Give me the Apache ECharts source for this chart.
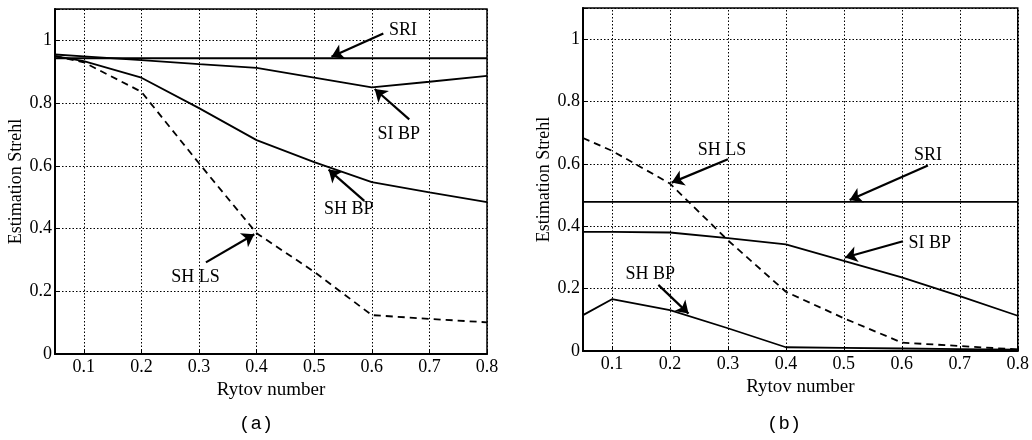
<!DOCTYPE html>
<html><head><meta charset="utf-8">
<script src="https://cdn.jsdelivr.net/npm/echarts@6/dist/echarts.min.js"></script>
<style>html,body{margin:0;padding:0;background:#fff}#c{width:1032px;height:440px}</style>
</head><body><div id="c"></div>
<script>
// ---- data ----
const rytov = [0.05, 0.1, 0.2, 0.3, 0.4, 0.5, 0.6, 0.7, 0.8];
const xTicks = [0.1, 0.2, 0.3, 0.4, 0.5, 0.6, 0.7, 0.8];
const yTicks = [0, 0.2, 0.4, 0.6, 0.8, 1];

// panel (a)
const sriA  = [0.943, 0.943, 0.943, 0.943, 0.943, 0.943, 0.943, 0.943, 0.943];
const siBpA = [0.955, 0.949, 0.937, 0.924, 0.912, 0.881, 0.850, 0.868, 0.887];
const shBpA = [0.950, 0.934, 0.881, 0.784, 0.682, 0.612, 0.548, 0.515, 0.484];
const shLsA = [0.950, 0.930, 0.836, 0.608, 0.385, 0.262, 0.124, 0.112, 0.101];

// panel (b)
const sriB  = [0.478, 0.478, 0.478, 0.478, 0.478, 0.478, 0.478, 0.478, 0.478];
const siBpB = [0.382, 0.382, 0.380, 0.362, 0.342, 0.289, 0.236, 0.176, 0.113];
const shBpB = [0.115, 0.166, 0.131, 0.073, 0.012, 0.010, 0.008, 0.006, 0.004];
const shLsB = [0.683, 0.642, 0.537, 0.355, 0.190, 0.105, 0.027, 0.016, 0.005];

// annotations: [text, labelX, labelY, arrowFromX, arrowFromY, arrowToX, arrowToY]
const notesA = [
  ['SRI',   0.654, 1.033, 0.620, 1.022, 0.530, 0.948],
  ['SI BP', 0.647, 0.700, 0.665, 0.748, 0.605, 0.845],
  ['SH BP', 0.560, 0.460, 0.587, 0.488, 0.525, 0.588],
  ['SH LS', 0.294, 0.245, 0.312, 0.292, 0.396, 0.382]
];
const notesB = [
  ['SH LS', 0.290, 0.645, 0.300, 0.615, 0.203, 0.540],
  ['SRI',   0.645, 0.628, 0.645, 0.595, 0.510, 0.484],
  ['SI BP', 0.648, 0.346, 0.602, 0.352, 0.502, 0.300],
  ['SH BP', 0.166, 0.245, 0.180, 0.212, 0.232, 0.120]
];
const panelLabels = ['(a)', '(b)'];

// ---- chart ----
const serif = 'Liberation Serif';
const pairs = (xs, ys) => xs.map((x, i) => [x, ys[i]]);

function axisX(i) {
  return {
    type: 'value', gridIndex: i, min: 0.05, max: 0.8,
    axisLine: { show: true, lineStyle: { color: '#000', width: 2 } },
    axisTick: { show: true, inside: true, length: 5, customValues: xTicks, lineStyle: { color: '#000' } },
    axisLabel: { customValues: xTicks, color: '#000', fontFamily: serif, fontSize: 18, margin: 4,
      formatter: v => v.toFixed(1) },
    splitLine: { show: false },
    name: 'Rytov number', nameLocation: 'middle', nameGap: 16,
    nameTextStyle: { color: '#000', fontFamily: serif, fontSize: 19 }
  };
}
function axisY(i) {
  return {
    type: 'value', gridIndex: i, min: 0, max: 1.1, interval: 0.2,
    axisLine: { show: true, lineStyle: { color: '#000', width: 2 } },
    axisTick: { show: true, inside: true, length: 5, lineStyle: { color: '#000' } },
    axisLabel: { color: '#000', fontFamily: serif, fontSize: 18, margin: 3,
      formatter: v => (yTicks.some(t => Math.abs(t - v) < 1e-6) ? String(+v.toFixed(1)) : '') },
    splitLine: { show: true, lineStyle: { color: '#000', width: 1, type: [1.5, 2] } },
    name: 'Estimation Strehl', nameLocation: 'middle', nameGap: 29,
    nameTextStyle: { color: '#000', fontFamily: serif, fontSize: 18 }
  };
}
function lineSeries(i, ys, dashed) {
  return {
    type: 'line', xAxisIndex: i, yAxisIndex: i, data: pairs(rytov, ys),
    symbol: 'none', silent: true, z: 3,
    lineStyle: { color: '#000', width: 1.8, type: dashed ? [7, 5] : 'solid' }
  };
}
function gridSeries(i) {
  return {
    type: 'line', xAxisIndex: i, yAxisIndex: i, data: [], silent: true, z: 1,
    markLine: {
      silent: true, symbol: ['none', 'none'], label: { show: false },
      lineStyle: { color: '#000', width: 1, type: [1.5, 2] },
      data: xTicks.map(x => ({ xAxis: x }))
    }
  };
}
function noteSeries(i, notes) {
  return [{
    type: 'scatter', xAxisIndex: i, yAxisIndex: i, symbolSize: 0, silent: true, z: 5,
    itemStyle: { opacity: 1, color: '#000' },
    data: notes.map(n => ({ value: [n[1], n[2]], name: n[0] })),
    label: { show: true, position: 'inside', formatter: p => p.name, opacity: 1,
      color: '#000', fontFamily: serif, fontSize: 18 }
  }, {
    type: 'line', xAxisIndex: i, yAxisIndex: i, data: [], silent: true, z: 5,
    markLine: {
      silent: true, symbol: ['none', 'arrow'], symbolSize: 12, label: { show: false },
      itemStyle: { color: '#000' },
      lineStyle: { color: '#000', width: 2.2, type: 'solid' },
      data: notes.map(n => [{ coord: [n[3], n[4]] }, { coord: [n[5], n[6]] }])
    }
  }];
}

const chart = echarts.init(document.getElementById('c'), null, { renderer: 'canvas' });
chart.setOption({
  animation: false,
  backgroundColor: '#fff',
  grid: [
    { left: 55, right: 545, top: 9, bottom: 86, show: true, borderColor: '#000', borderWidth: 1.5, backgroundColor: 'transparent' },
    { left: 583, right: 14, top: 8, bottom: 89, show: true, borderColor: '#000', borderWidth: 1.5, backgroundColor: 'transparent' }
  ],
  xAxis: [axisX(0), axisX(1)],
  yAxis: [axisY(0), axisY(1)],
  graphic: [
    { type: 'text', left: 239, top: 414, style: { text: panelLabels[0], font: '19px "Liberation Mono"', fill: '#000' } },
    { type: 'text', left: 767, top: 414, style: { text: panelLabels[1], font: '19px "Liberation Mono"', fill: '#000' } }
  ],
  series: [
    gridSeries(0), gridSeries(1),
    lineSeries(0, sriA, false), lineSeries(0, siBpA, false), lineSeries(0, shBpA, false), lineSeries(0, shLsA, true),
    lineSeries(1, sriB, false), lineSeries(1, siBpB, false), lineSeries(1, shBpB, false), lineSeries(1, shLsB, true),
    ...noteSeries(0, notesA), ...noteSeries(1, notesB)
  ]
});
</script></body></html>
